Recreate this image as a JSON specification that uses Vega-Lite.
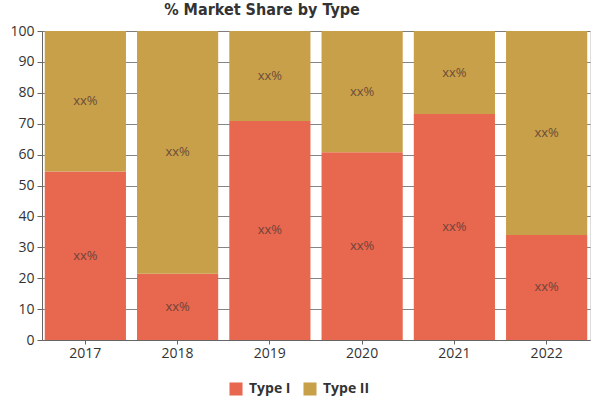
{
  "$schema": "https://vega.github.io/schema/vega-lite/v6.json",
  "autosize": "none",
  "width": 548,
  "height": 309,
  "padding": {"left": 42, "top": 31, "right": 10, "bottom": 60},
  "background": "white",
  "title": {
    "text": "% Market Share by Type",
    "font": "DejaVu Sans Condensed",
    "fontSize": 16,
    "fontWeight": "bold",
    "color": "#333333",
    "anchor": "middle",
    "frame": "group",
    "dx": -54,
    "offset": 6
  },
  "data": {
    "values": [
      {"year": "2017", "type": "Type I", "share": 54.5, "label": "xx%"},
      {"year": "2017", "type": "Type II", "share": 45.5, "label": "xx%"},
      {"year": "2018", "type": "Type I", "share": 21.4, "label": "xx%"},
      {"year": "2018", "type": "Type II", "share": 78.6, "label": "xx%"},
      {"year": "2019", "type": "Type I", "share": 70.9, "label": "xx%"},
      {"year": "2019", "type": "Type II", "share": 29.1, "label": "xx%"},
      {"year": "2020", "type": "Type I", "share": 60.8, "label": "xx%"},
      {"year": "2020", "type": "Type II", "share": 39.2, "label": "xx%"},
      {"year": "2021", "type": "Type I", "share": 73.1, "label": "xx%"},
      {"year": "2021", "type": "Type II", "share": 26.9, "label": "xx%"},
      {"year": "2022", "type": "Type I", "share": 34.0, "label": "xx%"},
      {"year": "2022", "type": "Type II", "share": 66.0, "label": "xx%"}
    ]
  },
  "encoding": {
    "x": {
      "field": "year",
      "type": "nominal",
      "scale": {"paddingInner": 0.12, "paddingOuter": 0.03},
      "axis": {
        "title": null,
        "labelAngle": 0,
        "labelFont": "Open Sans",
        "labelFontSize": 14,
        "labelColor": "#333333",
        "domainColor": "#666666",
        "tickColor": "#666666",
        "tickSize": 4,
        "labelPadding": 2
      }
    },
    "y": {
      "field": "share",
      "type": "quantitative",
      "stack": "zero",
      "scale": {"domain": [0, 100], "nice": false},
      "axis": {
        "title": null,
        "values": [0, 10, 20, 30, 40, 50, 60, 70, 80, 90, 100],
        "labelOverlap": false,
        "labelFont": "Open Sans",
        "labelFontSize": 14,
        "labelColor": "#333333",
        "domainColor": "#666666",
        "tickColor": "#666666",
        "tickSize": 5,
        "grid": true,
        "gridColor": "#666666",
        "gridOpacity": 0.8,
        "labelPadding": 3
      }
    },
    "order": {"field": "type", "sort": "ascending"}
  },
  "layer": [
    {
      "mark": {"type": "bar"},
      "encoding": {
        "color": {
          "field": "type",
          "type": "nominal",
          "scale": {"domain": ["Type I", "Type II"], "range": ["#E8674F", "#C9A04A"]},
          "legend": {
            "title": null,
            "orient": "none",
            "direction": "horizontal",
            "legendX": 187,
            "legendY": 351,
            "symbolType": "square",
            "symbolSize": 170,
            "symbolStrokeWidth": 0,
            "labelFont": "Open Sans",
            "labelFontSize": 14,
            "labelFontWeight": "bold",
            "labelColor": "#333333",
            "columnPadding": 12,
            "labelOffset": 6
          }
        }
      }
    },
    {
      "mark": {
        "type": "text",
        "font": "Open Sans",
        "fontSize": 13,
        "color": "#5a3e36",
        "opacity": 0.85
      },
      "encoding": {
        "y": {"field": "share", "type": "quantitative", "stack": "zero", "bandPosition": 0.5},
        "text": {"field": "label"},
        "detail": {"field": "type"}
      }
    }
  ]
}
